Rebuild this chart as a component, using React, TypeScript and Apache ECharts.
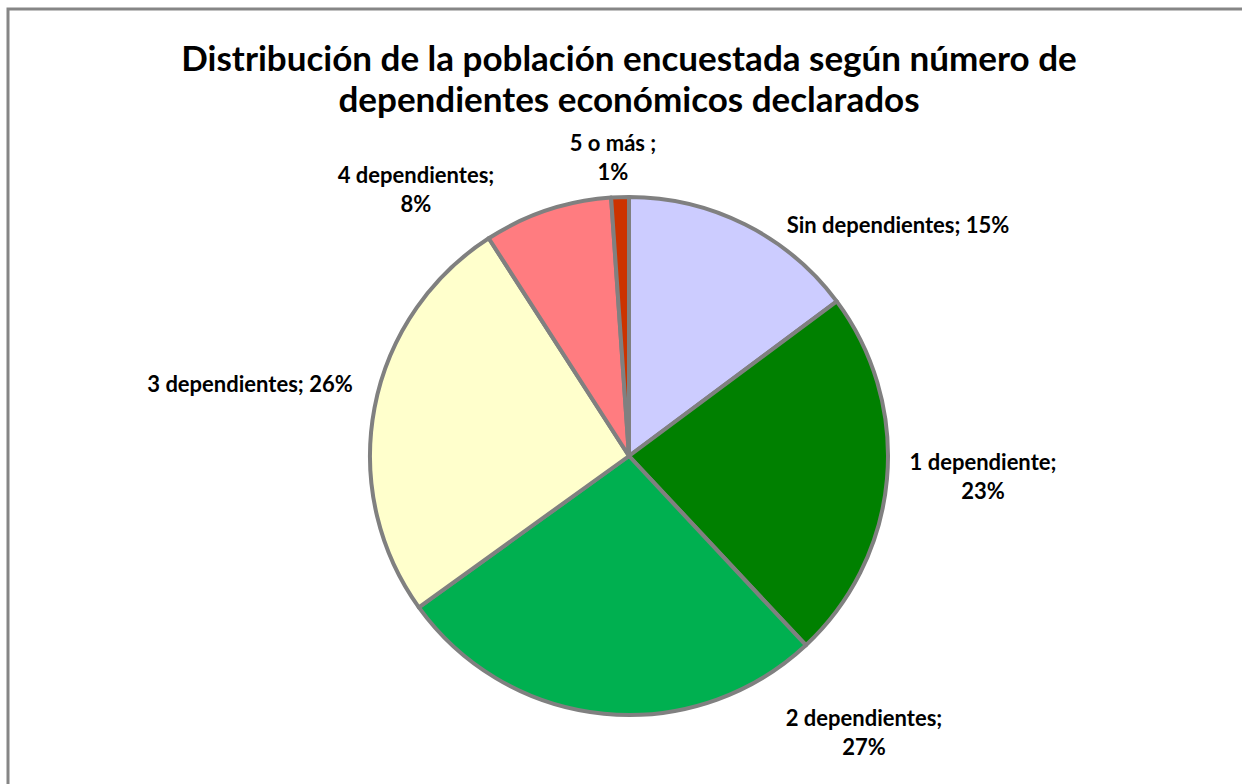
import React, { useEffect, useRef } from "react";
import * as echarts from "echarts";

const categories = [
  "Sin dependientes",
  "1 dependiente",
  "2 dependientes",
  "3 dependientes",
  "4 dependientes",
  "5 o más ",
];
const values = [14.8, 23.2, 27.0, 25.8, 8.0, 1.1];
const colors = ["#CCCCFF", "#008000", "#00B050", "#FFFFCC", "#FF7C80", "#CC3300"];
// label text layout: whether name and percent split on two lines
const twoLine = [false, true, true, false, true, true];
// label centers (px)
const labelPos: [number, number][] = [
  [898, 224],
  [983, 476],
  [864, 732],
  [250, 383],
  [416, 189],
  [613, 157],
];

const titleLines = [
  "Distribución de la población encuestada según número de",
  "dependientes económicos declarados",
];

export default function App() {
  const ref = useRef<HTMLDivElement>(null);
  useEffect(() => {
    if (!ref.current) return;
    const chart = echarts.init(ref.current, undefined, { renderer: "svg" });
    const font = "Lato, 'Open Sans', sans-serif";
    chart.setOption({
      animation: false,
      backgroundColor: "#ffffff",
      graphic: [
        {
          type: "rect",
          shape: { x: 8, y: 9, width: 1400, height: 1000 },
          style: { fill: "none", stroke: "#868686", lineWidth: 3 },
          silent: true,
        },
        {
          type: "text",
          x: 629,
          y: 57,
          style: {
            text: titleLines[0],
            fontFamily: font,
            fontWeight: "bold",
            fontSize: 35,
            fill: "#000",
            align: "center",
            verticalAlign: "middle",
          },
        },
        {
          type: "text",
          x: 629,
          y: 98,
          style: {
            text: titleLines[1],
            fontFamily: font,
            fontWeight: "bold",
            fontSize: 35,
            fill: "#000",
            align: "center",
            verticalAlign: "middle",
          },
        },
      ],
      series: [
        {
          type: "pie",
          center: [629, 456],
          radius: 259,
          startAngle: 90,
          clockwise: true,
          avoidLabelOverlap: false,
          itemStyle: { borderColor: "#808080", borderWidth: 4 },
          label: {
            show: true,
            position: "outside",
            fontFamily: font,
            fontWeight: "bold",
            fontSize: 22,
            color: "#000",
            lineHeight: 29,
            align: "center",
            formatter: (p: any) => {
              const pct = Math.round(p.percent) + "%";
              return twoLine[p.dataIndex] ? p.name + ";\n" + pct : p.name + "; " + pct;
            },
          },
          labelLine: { show: false },
          labelLayout: (p: any) => ({
            x: labelPos[p.dataIndex][0],
            y: labelPos[p.dataIndex][1],
            align: "center",
            verticalAlign: "middle",
          }),
          emphasis: { disabled: true },
          data: categories.map((c, i) => ({
            name: c,
            value: values[i],
            itemStyle: { color: colors[i] },
          })),
        },
      ],
    });
    return () => chart.dispose();
  }, []);
  return (
    <div
      ref={ref}
      style={{ position: "fixed", left: 0, top: 0, width: 1242, height: 784 }}
    />
  );
}
